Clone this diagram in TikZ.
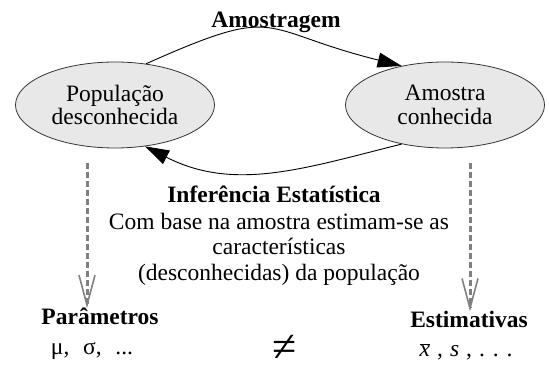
\documentclass[tikz,border=0pt]{standalone}
\usepackage{fontspec}
\setmainfont{Liberation Serif}
\usetikzlibrary{arrows.meta,shapes.geometric}

\begin{document}
\begin{tikzpicture}[>={Triangle[length=24pt,width=15pt]}, x=1pt, y=1pt,
  every node/.style={inner sep=0pt, font=\fontsize{23.5}{23.5}\selectfont},
  blob/.style={ellipse, draw=black!80, line width=0.8pt, fill=black!9,
    minimum width=199pt, minimum height=86pt, align=center},
  heading/.style={font=\fontsize{23.5}{23.5}\selectfont\bfseries},
  guess/.style={draw=black!50, line width=3pt, dash pattern=on 6pt off 3pt,
    -{Straight Barb[length=30pt,width=16pt,line width=1.6pt]}}]
\useasboundingbox (0,0) rectangle (549,-371);

% === Populacao e amostra ===
\node[blob] (Pop) at (115,-105) {População\\desconhecida};
\node[blob] (Amo) at (445,-105) {Amostra\\conhecida};

% === Ciclo ===
\node[heading, anchor=base] (Amostragem) at (276,-28) {Amostragem};
\draw[->, line width=0.9pt] (Pop.53) to[out=24, in=166, looseness=1.5] (Amo.138);
\draw[->, line width=0.9pt] (Amo.222) to[out=194, in=-27] (Pop.-54);

% === Inferencia ===
\node[heading, anchor=base] (Infer) at (274,-203) {Inferência Estatística};
\node[align=center, font=\fontsize{23.5}{25.5}\selectfont] (InferText) at (279,-249)
  {Com base na amostra estimam-se as\\características\\(desconhecidas) da população};

% === Parametros e estimativas ===
\node[heading, anchor=base] (Par) at (100,-325) {Parâmetros};
\node[anchor=base] (ParVal) at (92,-355) {μ,\,\, σ,\,\, ...};
\node[heading, anchor=base] (Est) at (469,-328) {Estimativas};
\node[anchor=base] (EstVal) at (466,-356)
  {$\overline{\mbox{\itshape x}}$\hspace{0.3em},\hspace{0.3em}{\itshape s}\hspace{0.3em},\hspace{0.3em}.\,\,.\,\,.};
\node[font=\fontsize{44}{44}\selectfont] (Diff) at (285,-348) {≠};

% === Setas tracejadas ===
\foreach \x/\t in {87/Par, 470/Est}{
  \coordinate (Drop-\t) at (\x,-163);
  \draw[guess] (Drop-\t) -- (Drop-\t |- \t.north);
}

\end{tikzpicture}
\end{document}
